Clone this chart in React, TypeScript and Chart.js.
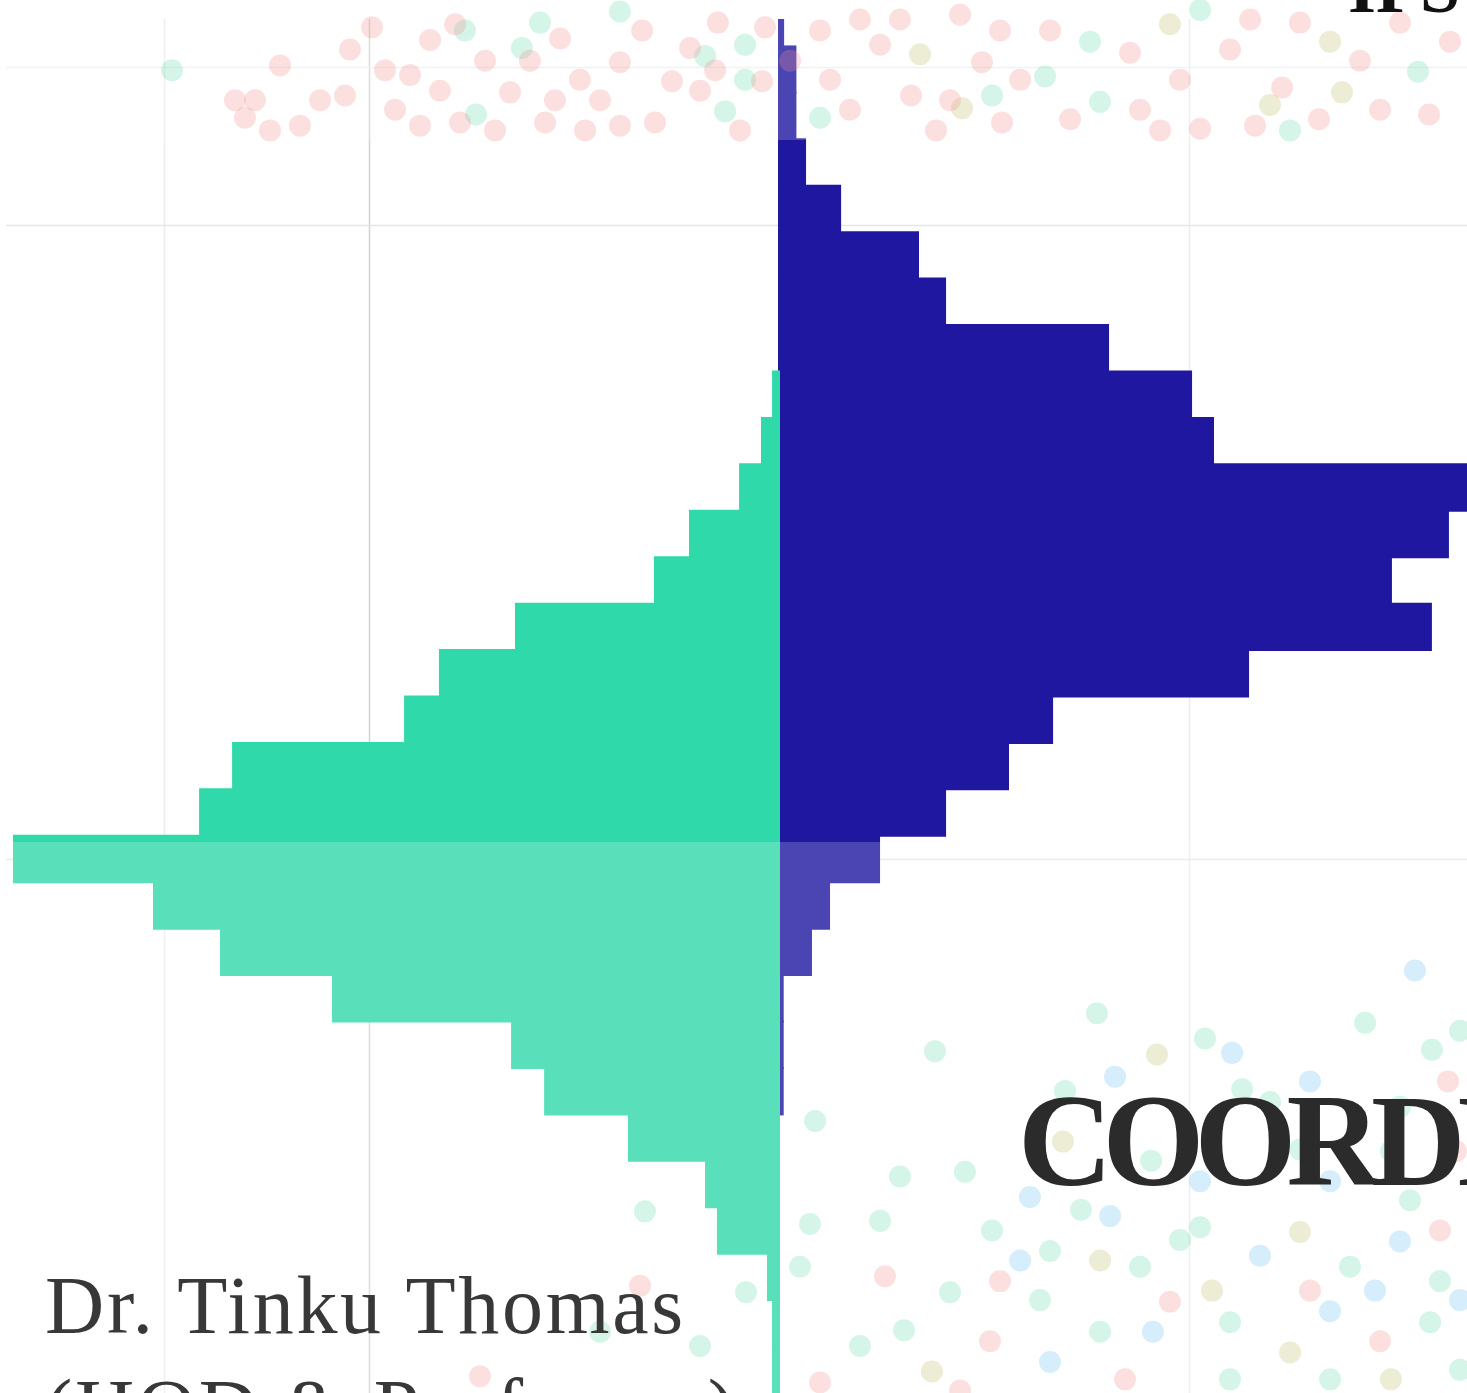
import React, { useEffect, useRef } from "react";
import { Chart, registerables } from "chart.js";

Chart.register(...registerables);

// ---- Data ----
const binLabels = [
  "1","2","3","4","5","6","7","8","9","10",
  "11","12","13","14","15","16","17","18","19","20",
  "21","22","23","24","25","26","27","28","29","30",
];
const blueCounts = [
  2, 8, 8, 12.7, 29.8, 67.8, 81, 160.5, 201, 211.7,
  350, 326.3, 298.5, 318, 228.8, 133.2, 111.7, 81, 48.8, 24.4,
  15.6, 1.8, 1.8, 1.8, 0, 0, 0, 0, 0, 0,
];
const greenCounts = [
  0, 0, 0, 0, 0, 0, 0, 0, 2.9, 8.3,
  19, 43.4, 60.5, 128.3, 165.4, 182.4, 266.3, 282.4, 373.2, 304.9,
  272.2, 217.6, 130.2, 114.1, 73.2, 35.6, 29.8, 5.4, 2.9, 2.9,
];
const xGridValues = [-300, -200, 200];
const yGridValues = [0, 1, 5];

// background dots [x, y] on the x / y2 scales
const pinkDots = [
  [-255.6,0.21],[-243.4,-0.01],[-233.7,0.37],[-260.5,0.32],[-209.3,-0.11],[-198.5,-0.25],
  [-211.7,0.18],[-192.2,0.02],[-180,0.05],[-170.2,-0.17],[-158,-0.27],[-175.1,0.37],
  [-155.6,0.35],[-131.2,0.16],[-121.5,-0.04],[-114.1,0.35],[-106.8,-0.18],[-109.3,0.21],
  [-87.3,0.21],[-77.6,-0.03],[-66.8,-0.23],[-60.5,0.35],[-52.2,0.09],[-43.4,-0.12],
  [-29.8,-0.28],[-8.3,0.09],[-19,0.4],[-6.8,-0.25],[-31.2,0.02],[24.9,0.08],[59,-0.3],
  [83.4,0.21],[99,-0.03],[108.8,0.35],[132.2,-0.23],[171.2,-0.09],[176.1,0.27],
  [205.4,0.39],[220,-0.11],[245.4,0.13],[254.1,-0.28],[293.2,0.27],[327.3,-0.16],
  [302.9,-0.28],[49.3,-0.14],
  [-265.4,0.21],[-248.3,0.4],[-223.9,0.21],[-187.3,0.27],[-165.4,0.15],[-143.4,-0.04],
  [-138.5,0.4],[-97.1,0.08],[-94.6,0.4],[-77.6,0.37],[-38.5,0.15],[5.4,-0.04],[34.6,0.27],
  [39.5,-0.3],[64.4,0.18],[76.6,0.4],[117.6,0.08],[142,0.33],[195.6,0.08],[229.8,-0.3],
  [232.2,0.37],[263.4,0.33],[283.4,-0.04],[317.1,0.3],[185.9,0.4],[107.8,-0.23],
  [88.3,-0.33],[20,-0.23],
  [326.3,6.4],[51.7,7.63],[107.8,7.66],[190.7,7.79],[293.2,8.04],[102.9,8.04],[20,8.3],
  [-67.8,7.69],[-145.9,8.26],[330.2,6.84],[259,7.72],[322.4,7.34],[168.8,8.28],[88.3,8.35],
];
const mintDots = [
  [-296.1,0.02],[-147.8,0.3],[-153.2,-0.23],[-125.4,-0.12],[-116.6,-0.28],[-77.6,-0.35],
  [-36.1,-0.07],[-26.3,0.28],[-16.6,-0.14],[-16.6,0.08],[20,0.32],[103.9,0.18],
  [129.8,0.06],[151.7,-0.16],[156.6,0.22],[249.3,0.4],[311.7,0.03],[205.4,-0.36],
  [155.1,5.97],[76.1,6.21],[207.8,6.13],[225.9,6.45],[285.9,6.03],[318.5,6.2],[332.2,6.08],
  [17.6,6.65],[239.5,6.53],[302.9,6.56],[90.7,6.97],[59,7.0],[49.3,7.28],[15.1,7.3],
  [10.2,7.57],[-65.4,7.22],[-16.1,7.73],[83.4,7.73],[132.2,7.47],[176.1,7.57],[205.4,7.32],
  [278.5,7.57],[322.4,7.66],[220,7.92],[317.6,7.92],[156.6,7.98],[39.5,8.07],[-87.3,7.98],
  [-38.5,8.07],[181.5,6.9],[298.5,6.84],[139.5,6.46],
  [103.9,7.34],[127.3,7.78],[195.6,7.4],[220,8.28],[268.8,8.28],[332.2,8.22],[61,7.97],
  [147.3,7.21],[254.1,6.83],[307.8,7.15],
];
const blueDots = [
  [310.2,5.7],[221,6.22],[259,6.4],[163.9,6.37],[161.5,7.25],[234.6,7.5],[302.9,7.41],
  [268.8,7.85],[132.2,8.17],[205.4,7.03],[268.8,7.03],[122.4,7.13],
  [117.6,7.53],[182.4,7.98],[290.7,7.72],[332.2,7.78],
];
const beigeDots = [
  [68.8,-0.08],[89.3,0.26],[190.7,-0.27],[239.5,0.24],[268.8,-0.16],[274.6,0.16],
  [184.4,6.23],[138.5,6.78],[254.1,7.35],[249.3,8.11],[74.6,8.23],
  [211.2,7.72],[298.5,8.28],[156.6,7.53],
];

const toPoints = (arr: number[][]) => arr.map(([x, y]) => ({ x, y }));

export default function App() {
  const canvasRef = useRef<HTMLCanvasElement | null>(null);

  useEffect(() => {
    const canvas = canvasRef.current;
    if (!canvas) return;
    let overlayDone = false;

    const decor = {
      id: "decor",
      beforeDatasetsDraw(chart: any) {
        overlayDone = false;
        const ctx = chart.ctx;
        const xs = chart.scales.x;
        const ys = chart.scales.y2;
        ctx.save();
        ctx.lineWidth = 1.5;
        xGridValues.forEach((v) => {
          const px = Math.round(xs.getPixelForValue(v)) + 0.5;
          ctx.strokeStyle = v === -200 ? "#d2d2d2" : "#ececec";
          ctx.beginPath();
          ctx.moveTo(px, 19);
          ctx.lineTo(px, chart.height);
          ctx.stroke();
        });
        yGridValues.forEach((v) => {
          const py = Math.round(ys.getPixelForValue(v)) + 0.5;
          ctx.strokeStyle = v === 0 ? "#efefef" : "#e5e5e5";
          ctx.beginPath();
          ctx.moveTo(6, py);
          ctx.lineTo(chart.width, py);
          ctx.stroke();
        });
        ctx.restore();
      },
      beforeDatasetDraw(chart: any, args: any) {
        const ctx = chart.ctx;
        if (args.meta.type === "bar") {
          ctx.save();
          ctx.beginPath();
          ctx.rect(6, 19, chart.width - 6, chart.height - 19);
          ctx.clip();
        } else if (!overlayDone) {
          overlayDone = true;
          ctx.save();
          ctx.fillStyle = "rgba(255,255,255,0.2)";
          ctx.fillRect(0, 0, chart.width, 140);
          ctx.fillRect(0, 842, chart.width, chart.height - 842);
          ctx.restore();
        }
      },
      afterDatasetDraw(chart: any, args: any) {
        if (args.meta.type === "bar") chart.ctx.restore();
      },
    };

    const dotDs = (data: number[][], color: string) => ({
      type: "scatter" as const,
      data: toPoints(data),
      xAxisID: "x",
      yAxisID: "y2",
      backgroundColor: color,
      borderWidth: 0,
      pointRadius: 11,
      pointHoverRadius: 11,
      clip: false,
      order: 0,
    });

    const barCommon = {
      type: "bar",
      indexAxis: "y",
      xAxisID: "x",
      yAxisID: "y",
      borderWidth: 0,
      borderSkipped: false,
      grouped: false,
      categoryPercentage: 1,
      barPercentage: 1,
      inflateAmount: 1,
      order: 1,
    };

    const chart = new Chart(canvas, {
      type: "bar",
      data: {
        labels: binLabels,
        datasets: [
          {
            ...barCommon,
            label: "green",
            data: greenCounts.map((v) => (v === 0 ? null : -v)),
            backgroundColor: "#30d9a9",
          } as any,
          {
            ...barCommon,
            label: "blue",
            data: blueCounts.map((v) => (v === 0 ? null : v)),
            backgroundColor: "#1f17a0",
          } as any,
          dotDs(pinkDots, "rgba(245,140,140,0.27)") as any,
          dotDs(mintDots, "rgba(60,210,150,0.22)") as any,
          dotDs(blueDots, "rgba(90,185,240,0.25)") as any,
          dotDs(beigeDots, "rgba(180,175,80,0.24)") as any,
        ],
      },
      options: {
        animation: false,
        responsive: false,
        maintainAspectRatio: false,
        layout: { padding: 0, autoPadding: false },
        plugins: {
          legend: { display: false },
          tooltip: { enabled: false },
        },
        scales: {
          x: { type: "linear", axis: "x", min: -380, max: 335.6, offset: false, grace: 0, display: false },
          y: { type: "category", axis: "y", labels: binLabels, offset: true, display: false },
          y2: { type: "linear", axis: "y", min: -0.4227, max: 8.366, reverse: true, offset: false, grace: 0, display: false },
        } as any,
      },
      plugins: [decor],
    } as any);

    return () => chart.destroy();
  }, []);

  return (
    <div
      style={{
        position: "fixed",
        left: 0,
        top: 0,
        width: 1467,
        height: 1393,
        overflow: "hidden",
        background: "#ffffff",
      }}
    >
      <canvas ref={canvasRef} width={1467} height={1393} style={{ position: "absolute", left: 0, top: 0 }} />
      <div
        style={{
          position: "absolute",
          right: 7,
          top: -48,
          fontFamily: "'Liberation Serif', serif",
          fontWeight: 700,
          fontSize: 72,
          lineHeight: "72px",
          color: "#111",
          whiteSpace: "nowrap",
        }}
      >
        IPS
      </div>
      <div
        style={{
          position: "absolute",
          left: 1018,
          top: 1075,
          fontFamily: "'Liberation Serif', serif",
          fontWeight: 700,
          fontSize: 131,
          lineHeight: "131px",
          letterSpacing: -10,
          color: "#2b2b2b",
          whiteSpace: "nowrap",
        }}
      >
        COORDINATOR
      </div>
      <div
        style={{
          position: "absolute",
          left: 45,
          top: 1254,
          fontFamily: "'Liberation Serif', serif",
          fontSize: 82,
          lineHeight: "103px",
          letterSpacing: 2.7,
          color: "#383838",
          whiteSpace: "nowrap",
        }}
      >
        Dr. Tinku Thomas
        <br />
        (HOD &amp; Professor)
      </div>
    </div>
  );
}
